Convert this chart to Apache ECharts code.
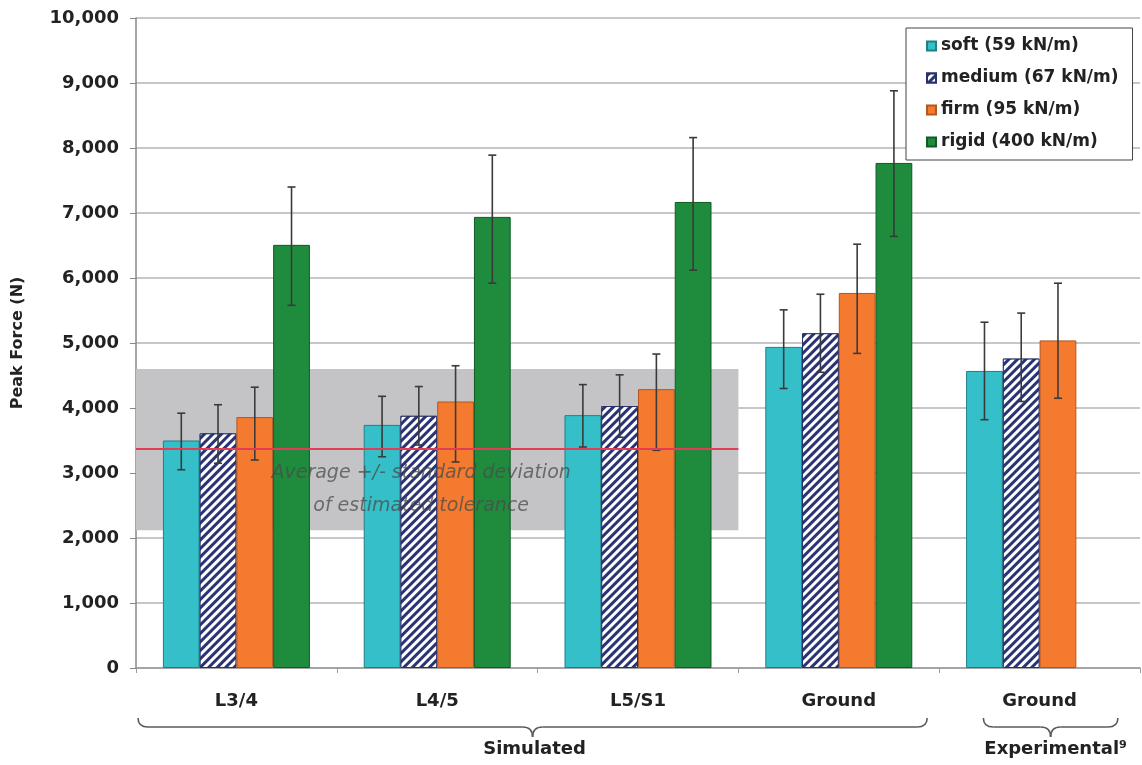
<!DOCTYPE html>
<html><head><meta charset="utf-8">
<script src="https://cdn.jsdelivr.net/npm/echarts@6/dist/echarts.min.js"></script>
<style>html,body{margin:0;padding:0;background:#fff}#c{width:1142px;height:765px}</style>
</head><body><div id="c"></div>
<script>
// ---- data ----
const categories = ['L3/4', 'L4/5', 'L5/S1', 'Ground', 'Ground'];
const seriesNames = ['soft (59 kN/m)', 'medium (67 kN/m)', 'firm (95 kN/m)', 'rigid (400 kN/m)'];
const soft   = [3500, 3740, 3890, 4940, 4570];
const medium = [3610, 3880, 4030, 5150, 4760];
const firm   = [3860, 4100, 4290, 5770, 5040];
const rigid  = [6510, 6940, 7170, 7770, null];
const softLow    = [3050, 3250, 3400, 4300, 3820];
const softHigh   = [3920, 4180, 4360, 5510, 5320];
const mediumLow  = [3150, 3430, 3550, 4550, 4100];
const mediumHigh = [4050, 4330, 4510, 5750, 5460];
const firmLow    = [3200, 3170, 3350, 4840, 4150];
const firmHigh   = [4320, 4650, 4830, 6520, 5920];
const rigidLow   = [5580, 5920, 6120, 6640, null];
const rigidHigh  = [7400, 7890, 8160, 8880, null];
const bandLow = 2120, bandHigh = 4600, bandMean = 3370;
const bandText = 'Average +/- standard deviation\nof estimated tolerance';
const groupLabels = ['Simulated', 'Experimental\u2079'];

// ---- styling ----
const FONT = 'DejaVu Sans';
const GAP = 0.268;
const colors = ['#35c0c9', '#ffffff', '#f47a30', '#1f8c3d'];
const borders = ['#1f7f88', '#27306b', '#b4561f', '#0f5a25'];

const values = [soft, medium, firm, rigid];
const lows = [softLow, mediumLow, firmLow, rigidLow];
const highs = [softHigh, mediumHigh, firmHigh, rigidHigh];

const errData = [];
for (let s = 0; s < 4; s++) {
  for (let i = 0; i < categories.length; i++) {
    if (lows[s][i] != null) errData.push([i, s, lows[s][i], highs[s][i]]);
  }
}

const barSeries = values.map((arr, s) => ({
  name: seriesNames[s],
  type: 'bar',
  xAxisIndex: 0,
  data: arr.map(v => v == null ? '-' : v),
  barGap: '0%',
  barCategoryGap: (GAP * 100) + '%',
  itemStyle: Object.assign({
    color: colors[s], borderColor: borders[s], borderWidth: 1
  }, s === 1 ? {
    decal: {
      symbol: 'rect', symbolSize: 1,
      dashArrayX: [1, 0], dashArrayY: [2.2, 2.6],
      rotation: -Math.PI / 4, color: '#2a3474', backgroundColor: '#ffffff'
    }
  } : {}),
  z: 2
}));

function renderErr(params, api) {
  const cat = api.value(0), si = api.value(1), lo = api.value(2), hi = api.value(3);
  const band = api.size([1, 0])[0];
  const bw = band * (1 - GAP) / 4;
  const pLo = api.coord([cat, lo]);
  const pHi = api.coord([cat, hi]);
  const x = pLo[0] + (si - 1.5) * bw;
  const cap = 4;
  const st = { stroke: '#3a3a3a', lineWidth: 1.6 };
  return {
    type: 'group', children: [
      { type: 'line', shape: { x1: x, y1: pHi[1], x2: x, y2: pLo[1] }, style: st },
      { type: 'line', shape: { x1: x - cap, y1: pHi[1], x2: x + cap, y2: pHi[1] }, style: st },
      { type: 'line', shape: { x1: x - cap, y1: pLo[1], x2: x + cap, y2: pLo[1] }, style: st }
    ]
  };
}

const chart = echarts.init(document.getElementById('c'), null, { renderer: 'canvas' });
chart.setOption({
  animation: false,
  backgroundColor: '#ffffff',
  grid: { left: 136, right: 2, top: 18, bottom: 97, containLabel: false },
  legend: {
    orient: 'vertical', left: 906, top: 28,
    padding: [9, 14, 9, 20], itemGap: 14, itemWidth: 9, itemHeight: 9,
    borderColor: '#444', borderWidth: 1, backgroundColor: '#fff',
    selectedMode: false, icon: 'rect',
    textStyle: { fontFamily: FONT, fontWeight: 'bold', fontSize: 17, color: '#222', lineHeight: 18 },
    data: seriesNames
  },
  xAxis: [{
    type: 'category', data: categories, position: 'bottom',
    axisLine: { lineStyle: { color: '#9a9a9a', width: 1.5 } },
    axisTick: { show: true, length: 5, lineStyle: { color: '#9a9a9a' } },
    axisLabel: { margin: 24, fontFamily: FONT, fontWeight: 'bold', fontSize: 18, color: '#222' },
    splitLine: { show: false }
  }, {
    type: 'value', min: 0, max: 5, show: false
  }],
  yAxis: {
    type: 'value', min: 0, max: 10000, interval: 1000,
    name: 'Peak Force (N)', nameLocation: 'middle', nameRotate: 90, nameGap: 110,
    nameTextStyle: { fontFamily: FONT, fontWeight: 'bold', fontSize: 16, color: '#222' },
    axisLine: { show: true, lineStyle: { color: '#888', width: 1.5 } },
    axisTick: { show: true, inside: false, length: 6, lineStyle: { color: '#888' } },
    axisLabel: {
      margin: 17, fontFamily: FONT, fontWeight: 'bold', fontSize: 18, color: '#222',
      formatter: v => v.toLocaleString('en-US')
    },
    splitLine: { lineStyle: { color: '#b4b4b4', width: 1.5 } }
  },
  series: [
    {
      type: 'line', xAxisIndex: 1, yAxisIndex: 0, data: [], silent: true,
      markArea: {
        silent: true, z: 1,
        itemStyle: { color: '#c4c4c7' },
        label: { show: false },
        data: [[{ coord: [0, bandLow] }, { coord: [3, bandHigh] }]]
      },
      markLine: {
        silent: true, z: 6, symbol: 'none',
        lineStyle: { color: '#e23d55', width: 2, type: 'solid' },
        label: { show: false },
        data: [[{ coord: [0, bandMean] }, { coord: [3, bandMean] }]]
      }
    },
    ...barSeries,
    {
      type: 'custom', xAxisIndex: 0, yAxisIndex: 0, renderItem: renderErr,
      encode: { x: 0, y: [2, 3] }, data: errData, z: 4, silent: true
    }
  ]
});

// ---- annotations placed through the axes ----
const xp = v => chart.convertToPixel({ xAxisIndex: 1 }, v);
const yp = v => chart.convertToPixel({ yAxisIndex: 0 }, v);
const yBase = yp(0);

const braceStyle = { fill: null, stroke: '#5a5a5a', lineWidth: 1.6 };
function braceParts(x0, x1, yTop, yMid, yTip) {
  const xc = (x0 + x1) / 2, r = 10;
  const q = (ax, ay, cx, cy, bx, by) => ({
    type: 'bezierCurve', z: 100, silent: true,
    shape: { x1: ax, y1: ay, cpx1: cx, cpy1: cy, x2: bx, y2: by },
    style: braceStyle
  });
  const l = (ax, ay, bx, by) => ({
    type: 'line', z: 100, silent: true,
    shape: { x1: ax, y1: ay, x2: bx, y2: by }, style: braceStyle
  });
  return [
    q(x0, yTop, x0, yMid, x0 + r, yMid),
    l(x0 + r, yMid, xc - r, yMid),
    q(xc - r, yMid, xc, yMid, xc, yTip),
    q(xc, yTip, xc, yMid, xc + r, yMid),
    l(xc + r, yMid, x1 - r, yMid),
    q(x1 - r, yMid, x1, yMid, x1, yTop)
  ];
}
const braces = [[0.01, 3.94], [4.22, 4.89]];
const gfx = [];
braces.forEach((b, i) => {
  const x0 = xp(b[0]), x1 = xp(b[1]);
  braceParts(x0, x1, yBase + 50, yBase + 59, yBase + 69).forEach(e => gfx.push(e));
  gfx.push({
    type: 'text', z: 100, silent: true,
    x: (x0 + x1) / 2 + (i === 0 ? 2 : 5), y: yBase + 81,
    style: { text: groupLabels[i], fontFamily: FONT, fontWeight: 'bold', fontSize: 18, fill: '#222', align: 'center', verticalAlign: 'middle' }
  });
});
gfx.push({
  type: 'text', z: 100, silent: true,
  x: xp(1.42), y: yp(2750),
  style: {
    text: bandText, fontFamily: FONT, fontStyle: 'italic', fontSize: 19, lineHeight: 33,
    fill: 'rgba(75,75,75,0.75)', align: 'center', verticalAlign: 'middle'
  }
});
chart.setOption({ graphic: { elements: gfx } });
</script>
</body></html>
